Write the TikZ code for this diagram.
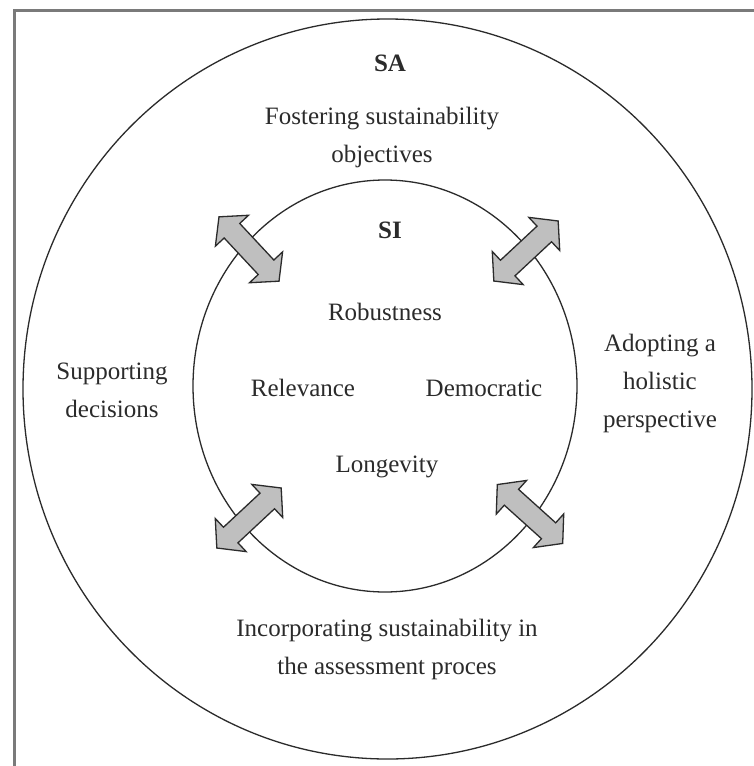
\documentclass[tikz,border=0pt]{standalone}
\usepackage{fontspec}
\setmainfont{Liberation Serif}
\usetikzlibrary{shapes.arrows}
\definecolor{ink}{HTML}{2B2B2B}
\definecolor{framegray}{HTML}{7A7A7A}
\begin{document}
\begin{tikzpicture}[x=1pt,y=-1pt,
  ring/.style={draw=ink,line width=1.3pt},
  label/.style={text=ink,font=\fontsize{25}{38}\selectfont,align=center,inner sep=0pt},
  title/.style={label,font=\fontsize{25}{38}\selectfont\bfseries},
  link/.style={shape=double arrow,draw=ink,line width=1.3pt,fill=gray!50,
    minimum height=88pt,inner sep=10pt,double arrow head extend=12pt,
    double arrow tip angle=100}]
  \useasboundingbox (0,0) rectangle (754,766);
  \fill[white] (0,0) rectangle (754,766);
  % frame edges
  \draw[framegray,line width=3pt] (14,766) -- (14,10) -- (754,10);
  % rings
  \draw[ring] (387.5,389) ellipse [x radius=364.5pt,y radius=370pt];
  \draw[ring] (385,386) ellipse [x radius=192pt,y radius=206pt];
  % links between the rings
  \node[link,rotate=-47] (tl) at (249,249) {};
  \node[link,rotate=43]  (tr) at (526,251) {};
  \node[link,rotate=43]  (bl) at (249,518) {};
  \node[link,rotate=-42] (br) at (530,514) {};
  % outer ring texts
  \node[title] (sa) at (390,63) {SA};
  \node[label] (foster) at (382,137) {Fostering sustainability\\objectives};
  \node[label] (support) at (112,390) {Supporting\\decisions};
  \node[label] (adopt) at (660,383) {Adopting a\\holistic\\perspective};
  \node[label] (incorp) at (387,649) {Incorporating sustainability in\\the assessment proces};
  % inner ring texts
  \node[title] (si) at (390,230) {SI};
  \node[label] (robust) at (385,312) {Robustness};
  \node[label] (relev) at (303,388) {Relevance};
  \node[label] (democ) at (484,388) {Democratic};
  \node[label] (longev) at (387,467) {Longevity};
\end{tikzpicture}
\end{document}
